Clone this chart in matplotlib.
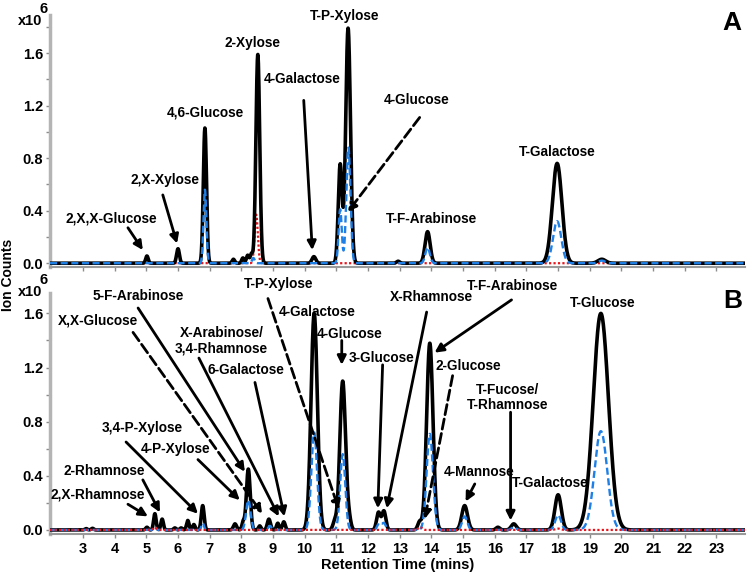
import matplotlib
matplotlib.use('Agg')
import matplotlib.pyplot as plt
import numpy as np

plt.rcParams['font.family'] = ['Liberation Sans', 'DejaVu Sans']
plt.rcParams['font.weight'] = 'bold'

# peak tables: retention time (min), height (x10^6), width (sigma, min)
a_black_rt = [5.02, 6.00, 6.85, 7.75, 8.05, 8.20, 8.32, 8.52, 10.29, 11.12, 11.37, 12.95, 13.88, 17.97, 19.38]
a_black_h = [0.055, 0.11, 1.03, 0.03, 0.04, 0.06, 0.07, 1.59, 0.05, 0.75, 1.79, 0.015, 0.24, 0.76, 0.03]
a_black_w = [0.04, 0.045, 0.05, 0.04, 0.04, 0.04, 0.04, 0.06, 0.06, 0.06, 0.075, 0.05, 0.08, 0.15, 0.12]

a_blue_rt = [6.85, 8.38, 11.12, 11.38, 13.88, 17.97, 19.38]
a_blue_h = [0.56, 0.04, 0.41, 0.88, 0.12, 0.32, 0.02]
a_blue_w = [0.045, 0.04, 0.05, 0.065, 0.07, 0.13, 0.10]

a_red_rt = [8.47]
a_red_h = [0.37]
a_red_w = [0.05]

b_black_rt = [3.10, 3.30, 5.02, 5.27, 5.50, 5.90, 6.10, 6.31, 6.50, 6.78, 7.80, 8.06, 8.22, 8.58,
              8.87, 9.15, 9.34, 10.30, 10.95, 11.20, 11.40, 12.33, 12.50, 13.63, 13.95, 15.05,
              16.10, 16.60, 18.00, 19.35]
b_black_h = [0.01, 0.012, 0.02, 0.12, 0.08, 0.015, 0.015, 0.07, 0.04, 0.18, 0.045, 0.06, 0.45, 0.03,
             0.08, 0.05, 0.06, 1.60, 0.06, 1.10, 0.07, 0.13, 0.14, 0.06, 1.38, 0.18,
             0.02, 0.045, 0.26, 1.60]
b_black_w = [0.04, 0.04, 0.04, 0.04, 0.04, 0.04, 0.04, 0.04, 0.04, 0.045, 0.05, 0.04, 0.06, 0.04,
             0.05, 0.04, 0.045, 0.10, 0.06, 0.09, 0.06, 0.06, 0.06, 0.06, 0.10, 0.09,
             0.06, 0.08, 0.10, 0.24]

b_blue_rt = [5.27, 6.78, 8.22, 8.90, 10.30, 11.20, 12.35, 12.50, 13.95, 15.05, 16.60, 18.00, 19.35]
b_blue_h = [0.02, 0.05, 0.22, 0.03, 0.72, 0.56, 0.05, 0.05, 0.71, 0.10, 0.02, 0.11, 0.73]
b_blue_w = [0.04, 0.04, 0.07, 0.05, 0.09, 0.08, 0.06, 0.06, 0.10, 0.08, 0.07, 0.09, 0.20]

b_red_rt = [5.27, 13.65, 18.00]
b_red_h = [0.02, 0.02, 0.01]
b_red_w = [0.04, 0.06, 0.08]

# labels: text, text pos (rt, y), arrow tail, arrow head, dashed
a_labels = [
    ('2,X,X-Glucose', (3.88, 0.34), (4.42, 0.27), (4.89, 0.10), False),
    ('2,X-Xylose', (5.59, 0.63), (5.52, 0.52), (5.97, 0.15), False),
    ('4,6-Glucose', (6.85, 1.15), None, None, False),
    ('2-Xylose', (8.36, 1.68), None, None, False),
    ('4-Galactose', (9.91, 1.40), (9.97, 1.24), (10.24, 0.10), False),
    ('T-P-Xylose', (11.26, 1.88), None, None, False),
    ('4-Glucose', (13.54, 1.24), (13.63, 1.11), (11.36, 0.39), True),
    ('T-F-Arabinose', (14.01, 0.34), None, None, False),
    ('T-Galactose', (17.98, 0.85), None, None, False),
]
b_labels = [
    ('T-P-Xylose', (9.18, 1.82), (8.84, 1.71), (11.08, 0.15), True),
    ('5-F-Arabinose', (4.73, 1.73), (4.74, 1.64), (8.11, 0.43), False),
    ('X,X-Glucose', (3.47, 1.55), (4.58, 1.46), (8.66, 0.12), True),
    ('X-Arabinose/\n3,4-Rhamnose', (7.38, 1.40), (6.66, 1.27), (9.18, 0.10), False),
    ('6-Galactose', (8.14, 1.18), (8.43, 1.09), (9.36, 0.10), False),
    ('3,4-P-Xylose', (4.86, 0.75), (4.36, 0.65), (6.63, 0.12), False),
    ('4-P-Xylose', (5.93, 0.60), (6.63, 0.52), (7.95, 0.22), False),
    ('2-Rhamnose', (3.66, 0.435), (4.89, 0.37), (5.43, 0.13), False),
    ('2,X-Rhamnose', (3.47, 0.265), (4.42, 0.19), (5.05, 0.10), False),
    ('4-Galactose', (10.38, 1.61), None, None, False),
    ('4-Glucose', (11.42, 1.45), (11.17, 1.40), (11.17, 1.22), False),
    ('3-Glucose', (12.43, 1.27), (12.46, 1.22), (12.31, 0.16), False),
    ('X-Rhamnose', (14.01, 1.72), (13.85, 1.61), (12.59, 0.16), False),
    ('T-F-Arabinose', (16.56, 1.80), (16.53, 1.70), (14.10, 1.31), False),
    ('2-Glucose', (15.16, 1.21), (14.67, 1.14), (13.79, 0.08), True),
    ('T-Fucose/\nT-Rhamnose', (16.41, 0.98), (16.50, 0.87), (16.50, 0.07), False),
    ('4-Mannose', (15.52, 0.43), (15.37, 0.34), (15.08, 0.21), False),
    ('T-Galactose', (17.76, 0.35), None, None, False),
    ('T-Glucose', (19.40, 1.68), None, None, False),
]

x = np.linspace(1.96, 23.9, 4000)


def trace(rt, h, w):
    y = np.zeros_like(x)
    for r, hh, ww in zip(rt, h, w):
        y += hh * np.exp(-0.5 * ((x - r) / ww) ** 2)
    return y


def draw_panel(ax, black, blue, red, labels, letter, ytop, red_on_top):
    ax.plot(x, trace(*black), color='black', lw=2.6, zorder=3)
    ax.plot(x, trace(*blue), color='#1e7fe6', lw=1.7, ls=(0, (3, 1.5)), zorder=4)
    ax.plot(x, trace(*red), color='#e8141c', lw=1.6, ls=(0, (1, 1)),
            zorder=5 if red_on_top else 2.5)

    for text, xy_text, tail, head, dashed in labels:
        ax.text(xy_text[0], xy_text[1], text, ha='center', va='center', fontsize=9.8,
                fontweight='bold', linespacing=1.1, zorder=6, clip_on=False)
        if tail is not None:
            ax.annotate('', xy=head, xytext=tail,
                        arrowprops=dict(arrowstyle='-|>', color='black', lw=2,
                                        ls='--' if dashed else '-', mutation_scale=13,
                                        shrinkA=0, shrinkB=0),
                        zorder=7, annotation_clip=False)

    ax.text(23.5, ytop - 0.06, letter, ha='center', va='center', fontsize=19, fontweight='bold')

    ax.set_xlim(1.96, 23.9)
    ax.set_ylim(-0.03, ytop)
    ax.set_yticks([0.0, 0.4, 0.8, 1.2, 1.6])
    ax.set_yticklabels(['0.0', '0.4', '0.8', '1.2', '1.6'])
    ax.set_yticks(np.arange(0.2, ytop, 0.4), minor=True)
    ax.set_xticks(range(3, 24))
    for side in ['top', 'right']:
        ax.spines[side].set_visible(False)
    ax.spines['left'].set_color('#b4b4b4')
    ax.spines['left'].set_linewidth(2.5)
    ax.spines['bottom'].set_color('#9a9a9a')
    ax.spines['bottom'].set_linewidth(1.5)
    ax.tick_params(axis='both', which='both', color='#8c8c8c', length=3, width=1)
    ax.tick_params(axis='y', labelsize=10.5, pad=2)
    ax.tick_params(axis='x', labelsize=10.5, pad=3)


fig = plt.figure(figsize=(7.5, 5.77), dpi=100)
ax_a = fig.add_axes([0.0667, 0.537, 0.9266, 0.437])
ax_b = fig.add_axes([0.0667, 0.0745, 0.9266, 0.4175])

draw_panel(ax_a, (a_black_rt, a_black_h, a_black_w), (a_blue_rt, a_blue_h, a_blue_w),
           (a_red_rt, a_red_h, a_red_w), a_labels, 'A', 1.89, False)
draw_panel(ax_b, (b_black_rt, b_black_h, b_black_w), (b_blue_rt, b_blue_h, b_blue_w),
           (b_red_rt, b_red_h, b_red_w), b_labels, 'B', 1.75, True)
ax_a.tick_params(axis='x', labelbottom=False)

ax_b.set_xlabel('Retention Time (mins)', fontsize=10.5, fontweight='bold', labelpad=1)

# x10^6 multipliers and shared y label
for yy in [0.963, 0.494]:
    fig.text(0.024, yy, 'x10', fontsize=10.5, fontweight='bold', ha='left', va='center')
    fig.text(0.053, yy + 0.021, '6', fontsize=10.5, fontweight='bold', ha='left', va='center')
fig.text(0.011, 0.523, 'Ion Counts', rotation=90, fontsize=10, fontweight='bold',
         ha='center', va='center')

fig.savefig('out.png', dpi=100)
